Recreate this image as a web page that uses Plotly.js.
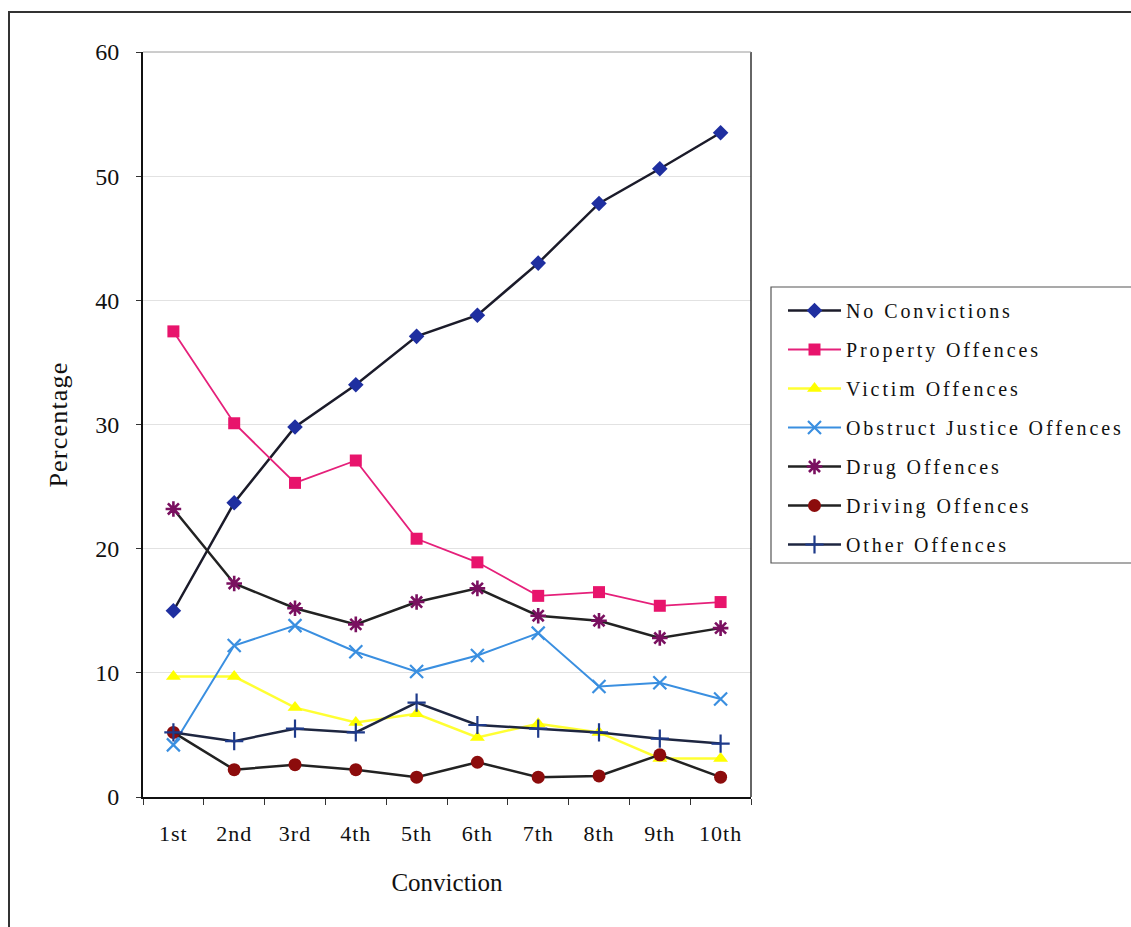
<!DOCTYPE html>
<html>
<head>
<meta charset="utf-8">
<script src="https://cdn.plot.ly/plotly-3.0.1.min.js"></script>
<style>
  html, body { margin: 0; padding: 0; background: #fff; }
  #wrap { position: relative; width: 1131px; height: 927px; overflow: hidden; }
  #frame { position: absolute; left: 8px; top: 11px; width: 1200px; height: 1000px;
           border-top: 2px solid #333; border-left: 2px solid #333; pointer-events: none; }
  #chart { position: absolute; left: 0; top: 0; width: 1131px; height: 927px; }
  .legendtext { letter-spacing: 2.9px; }
  .xtick text { letter-spacing: 1px; }
  .g-ytitle text { letter-spacing: 1.2px; }
</style>
</head>
<body>
<div id="wrap">
  <div id="chart"></div>
  <div id="frame"></div>
</div>
<script>
// Conviction order
const convictions = ["1st", "2nd", "3rd", "4th", "5th", "6th", "7th", "8th", "9th", "10th"];

// Percentage of offenders at each conviction, by type of next offence
const noConvictions   = [15.0, 23.7, 29.8, 33.2, 37.1, 38.8, 43.0, 47.8, 50.6, 53.5];
const propertyOff     = [37.5, 30.1, 25.3, 27.1, 20.8, 18.9, 16.2, 16.5, 15.4, 15.7];
const victimOff       = [9.7, 9.7, 7.2, 6.0, 6.7, 4.8, 5.9, 5.2, 3.1, 3.1];
const obstructOff     = [4.2, 12.2, 13.8, 11.7, 10.1, 11.4, 13.2, 8.9, 9.2, 7.9];
const drugOff         = [23.2, 17.2, 15.2, 13.9, 15.7, 16.8, 14.6, 14.2, 12.8, 13.6];
const drivingOff      = [5.2, 2.2, 2.6, 2.2, 1.6, 2.8, 1.6, 1.7, 3.4, 1.6];
const otherOff        = [5.2, 4.5, 5.5, 5.2, 7.6, 5.8, 5.5, 5.2, 4.7, 4.3];

const seriesNames = ["No Convictions", "Property Offences", "Victim Offences",
  "Obstruct Justice Offences", "Drug Offences", "Driving Offences", "Other Offences"];

const FONT = '"Liberation Serif", "Times New Roman", serif';

function series(name, y, lineColor, lineWidth, marker) {
  return {
    type: 'scatter', mode: 'lines+markers', name: name, legendgroup: name,
    x: convictions, y: y,
    line: { color: lineColor, width: lineWidth },
    marker: marker,
    hoverinfo: 'x+y+name'
  };
}

const traces = [
  series(seriesNames[0], noConvictions, '#1b1b2a', 2.5,
    { symbol: 'diamond', size: 12, color: '#1f2fa0', line: { width: 0 } }),
  series(seriesNames[1], propertyOff, '#e5207a', 1.8,
    { symbol: 'square', size: 12, color: '#e8146c', line: { width: 0 } }),
  series(seriesNames[2], victimOff, '#ffff33', 2.5,
    { symbol: 'triangle-up', size: 13, color: '#ffff00', line: { width: 0 } }),
  series(seriesNames[3], obstructOff, '#3a8fe0', 2,
    { symbol: 'x-thin-open', size: 13, color: '#3a8fe0', line: { width: 2.2, color: '#3a8fe0' } }),
  series(seriesNames[4], drugOff, '#222222', 2.5,
    { symbol: 'asterisk-open', size: 13, color: '#7a1060', line: { width: 2.6, color: '#7a1060' } }),
  series(seriesNames[5], drivingOff, '#222222', 2.5,
    { symbol: 'circle', size: 13, color: '#8c0c0c', line: { width: 0 } }),
  series(seriesNames[6], otherOff, '#1e2640', 2.5,
    { symbol: 'cross-thin-open', size: 13, color: '#1e3a8a', line: { width: 2.2, color: '#1e3a8a' } })
];

// plot area spans x 143..751, y 52..797 in a 1131x927 page
const W = 1131, H = 927, L = 143, R = 751, T = 52, B = 797;
const px = v => (v - L) / (R - L);
const py = v => (B - v) / (B - T);

const layout = {
  width: W, height: H,
  margin: { l: L, r: W - R, t: T, b: H - B, pad: 0, autoexpand: false },
  paper_bgcolor: 'rgba(0,0,0,0)',
  plot_bgcolor: '#ffffff',
  font: { family: FONT, color: '#111', size: 20 },
  showlegend: true,
  xaxis: {
    type: 'category',
    range: [-0.5, 9.5],
    showline: true, linecolor: '#111', linewidth: 2,
    ticks: 'outside', ticklen: 6, tickwidth: 1, tickcolor: '#333',
    tickson: 'boundaries',
    showgrid: false, zeroline: false,
    tickfont: { family: FONT, size: 22, color: '#111' },
    ticklabelstandoff: 16,
    title: { text: 'Conviction', font: { family: FONT, size: 25, color: '#111' }, standoff: 28 }
  },
  yaxis: {
    range: [0, 60], dtick: 10, tick0: 0,
    showline: true, linecolor: '#111', linewidth: 2,
    ticks: 'outside', ticklen: 5, tickwidth: 1, tickcolor: '#333',
    showgrid: true, gridcolor: '#e2e2e2', gridwidth: 1,
    zeroline: false,
    tickfont: { family: FONT, size: 24, color: '#111' },
    ticklabelstandoff: 12,
    title: { text: 'Percentage', font: { family: FONT, size: 26, color: '#111' }, standoff: 20 }
  },
  legend: {
    x: px(783), y: py(291), xanchor: 'left', yanchor: 'top',
    bgcolor: 'rgba(0,0,0,0)', borderwidth: 0,
    font: { family: FONT, size: 20, color: '#111' },
    traceorder: 'grouped', tracegroupgap: 10,
    itemwidth: 53, itemclick: false, itemdoubleclick: false
  },
  shapes: [
    // right and top edges of the plot area
    { type: 'line', xref: 'paper', yref: 'paper', x0: 1, x1: 1, y0: 0, y1: 1,
      line: { color: '#333', width: 1.5 } },
    { type: 'line', xref: 'paper', yref: 'paper', x0: 0, x1: 1, y0: 1, y1: 1,
      line: { color: '#9a9a9a', width: 1 } },
    // legend box (runs past the right edge of the page)
    { type: 'rect', xref: 'paper', yref: 'paper',
      x0: px(771), x1: px(1140), y0: py(563), y1: py(287),
      line: { color: '#555', width: 1.2 }, fillcolor: 'rgba(0,0,0,0)' }
  ]
};

Plotly.newPlot('chart', traces, layout, { displayModeBar: false, staticPlot: true });
</script>
</body>
</html>
